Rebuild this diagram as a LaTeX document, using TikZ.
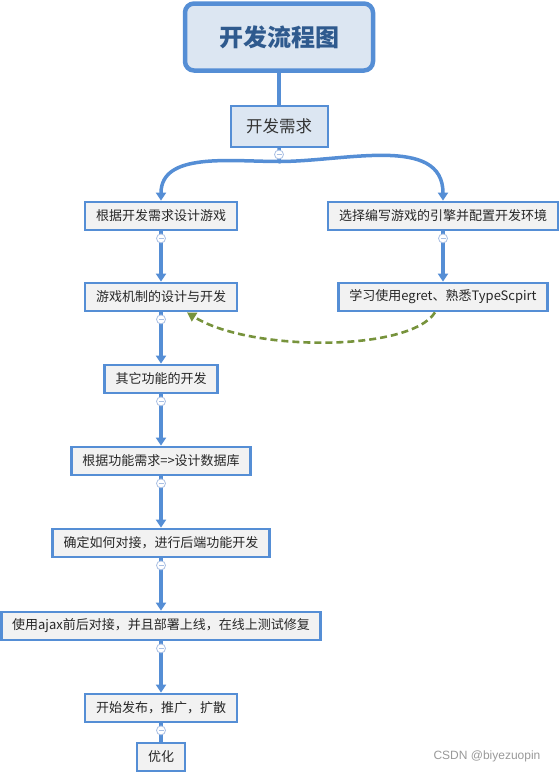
\documentclass[tikz,border=0pt]{standalone}
\usepackage{fontspec}
\setmainfont{Noto Sans CJK SC}
\newfontfamily\markfont{Liberation Sans}
\usepackage{tikz}
\usetikzlibrary{arrows.meta}
\definecolor{mapblue}{HTML}{558ED5}
\definecolor{lightfill}{HTML}{DCE6F2}
\definecolor{boxfill}{HTML}{F2F2F2}
\definecolor{titletext}{HTML}{2F5A8E}
\definecolor{linkgreen}{HTML}{77933C}
\definecolor{foldline}{HTML}{A9BFE3}

\begin{document}
\begin{tikzpicture}[x=1pt,y=1pt,
    box/.style={draw=mapblue,line width=2.8pt,fill=boxfill,font=\fontsize{13}{15}\selectfont,
        text=black!85,minimum height=28pt,inner xsep=11pt,inner ysep=0pt},
    flow/.style={mapblue,line width=3.5pt,-{Triangle[width=10pt,length=8pt]}},
    link/.style={linkgreen,line width=2.6pt,dash pattern=on 7pt off 4pt,-{Triangle[width=10pt,length=9pt]}},
    fold/.style={draw=foldline,fill=white,line width=0.8pt}]
	\useasboundingbox (0,0) rectangle (560,-772);
	% title and first step
	\node[draw=mapblue,line width=4.5pt,fill=lightfill,rounded corners=9pt,minimum width=188pt,minimum height=67pt,
	    font=\fontsize{24}{28}\selectfont\bfseries,text=titletext] (title) at (279,-37) {开发流程图};
	\node[draw=mapblue,line width=2pt,fill=lightfill,minimum width=97pt,minimum height=41pt,
	    font=\fontsize{16.5}{20}\selectfont,text=black!80] (req) at (279,-126) {开发需求};
	% two branches
	\node[box] (design) at (161,-216) {根据开发需求设计游戏};
	\node[box] (engine) at (443,-216) {选择编写游戏的引擎并配置开发环境};
	\node[box] (mech) at (161,-297) {游戏机制的设计与开发};
	\node[box] (learn) at (443,-297) {学习使用egret、熟悉TypeScpirt};
	% main column
	\node[box] (other) at (161,-379) {其它功能的开发};
	\node[box] (db) at (161,-461) {根据功能需求=>设计数据库};
	\node[box] (backend) at (161,-543) {确定如何对接，进行后端功能开发};
	\node[box] (deploy) at (161,-626) {使用ajax前后对接，并且部署上线，在线上测试修复};
	\node[box] (release) at (161,-708) {开始发布，推广，扩散};
	\node[box] (optimize) at (161,-757) {优化};

	\draw[mapblue,line width=3.5pt] (title) -- (req);
	\draw[flow] (req.south) -- ([yshift=-14pt]req.south) to[out=180,in=90] (design.north);
	\draw[flow] ([yshift=-14pt]req.south) to[out=0,in=90] (engine.north);
	\draw[flow] (design) -- (mech);
	\draw[flow] (engine) -- (learn);
	\draw[flow] (mech) -- (other);
	\draw[flow] (other) -- (db);
	\draw[flow] (db) -- (backend);
	\draw[flow] (backend) -- (deploy);
	\draw[flow] (deploy) -- (release);
	\draw[mapblue,line width=3.5pt] (release) -- (optimize);
	\draw[link] ([xshift=-8pt]learn.south) .. controls (410,-352) and (250,-352) .. ([xshift=26pt]mech.south);

	% fold buttons
	\foreach \n in {req,design,engine,mech,other,db,backend,deploy,release}{
		\draw[fold] ([yshift=-7pt]\n.south) circle (4.5pt);
		\draw[foldline,line width=0.9pt] ([xshift=-2.5pt,yshift=-7pt]\n.south) -- ++(5,0);
	}

	\node[font=\markfont\fontsize{12}{14}\selectfont,text=black!40] (mark) at (487,-756) {CSDN @biyezuopin};
\end{tikzpicture}
\end{document}
